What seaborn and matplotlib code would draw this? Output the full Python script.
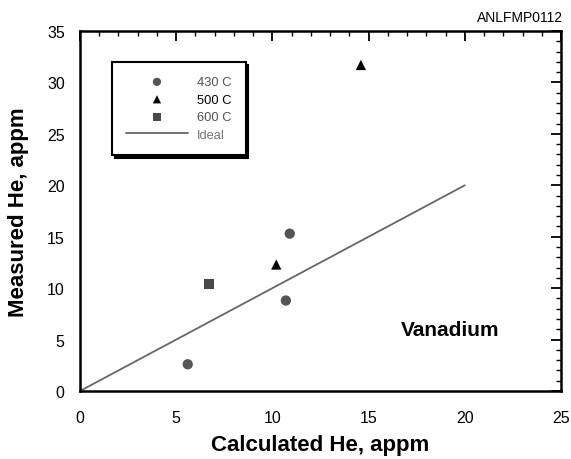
"""Measured vs calculated helium in vanadium, with the ideal 1:1 line."""

import matplotlib

matplotlib.use("Agg")
import matplotlib.pyplot as plt  # noqa: E402
import pandas as pd  # noqa: E402
import seaborn as sns  # noqa: E402
from matplotlib.ticker import MultipleLocator  # noqa: E402

# values
calc_430 = [5.6, 10.7, 10.9]
meas_430 = [2.6, 8.8, 15.3]
calc_500 = [10.2, 14.6]
meas_500 = [12.3, 31.7]
calc_600 = [6.7]
meas_600 = [10.4]
ideal_x = [0, 20]
ideal_y = [0, 20]

series = [
    ("430 C", calc_430, meas_430, "o", "#555555"),
    ("500 C", calc_500, meas_500, "^", "#000000"),
    ("600 C", calc_600, meas_600, "s", "#4a4a4a"),
]

sns.set_theme(style="white")
plt.rcParams["font.family"] = ["Liberation Sans", "DejaVu Sans"]
plt.rcParams["text.color"] = "black"
plt.rcParams["axes.labelcolor"] = "black"

fig = plt.figure(figsize=(5.71, 4.60), dpi=100)
ax = fig.add_axes([0.1401, 0.1478, 0.8424, 0.7826])

for label, xs, ys, marker, color in series:
    df = pd.DataFrame({"calc": xs, "meas": ys})
    sns.scatterplot(
        data=df, x="calc", y="meas", ax=ax, marker=marker, color=color,
        s=55, edgecolor="none", label=label,
    )

sns.lineplot(x=ideal_x, y=ideal_y, ax=ax, color="#666666", lw=1.3, label="Ideal")

ax.set_xlim(0, 25)
ax.set_ylim(0, 35)
ax.xaxis.set_major_locator(MultipleLocator(5))
ax.xaxis.set_minor_locator(MultipleLocator(1))
ax.yaxis.set_major_locator(MultipleLocator(5))
ax.yaxis.set_minor_locator(MultipleLocator(1))
ax.tick_params(which="both", direction="in", top=True, right=True,
               color="black", labelsize=11.5, labelcolor="black")
ax.tick_params(which="major", length=7, width=1.3)
ax.tick_params(which="minor", length=3.6, width=1.0)
ax.tick_params(axis="x", which="both", pad=14)
ax.tick_params(axis="y", which="both", pad=11)
for sp in ax.spines.values():
    sp.set_color("black")
    sp.set_linewidth(1.8)

ax.set_xlabel("Calculated He, appm", fontsize=16, fontweight="bold", labelpad=6)
ax.set_ylabel("Measured He, appm", fontsize=16, fontweight="bold", labelpad=13)

ax.text(16.7, 6.0, "Vanadium", fontsize=15, fontweight="bold", va="center")
fig.text(0.986, 1 - 18 / 460, "ANLFMP0112", ha="right", va="center", fontsize=10)

leg = ax.legend(
    loc="upper left", bbox_to_anchor=(0.066, 0.914), borderaxespad=0,
    fontsize=9.3, frameon=True, fancybox=False, edgecolor="black",
    shadow={"color": "black", "alpha": 1.0}, handlelength=4.8,
    handletextpad=0.7, labelspacing=0.42, borderpad=1.1, markerscale=0.8,
)
leg.get_frame().set_linewidth(1.5)
leg.get_frame().set_facecolor("white")
text_colors = ["#555555", "#000000", "#555555", "#777777"]
for txt, c in zip(leg.get_texts(), text_colors):
    txt.set_color(c)

fig.savefig("out.png", dpi=100)
plt.close(fig)
